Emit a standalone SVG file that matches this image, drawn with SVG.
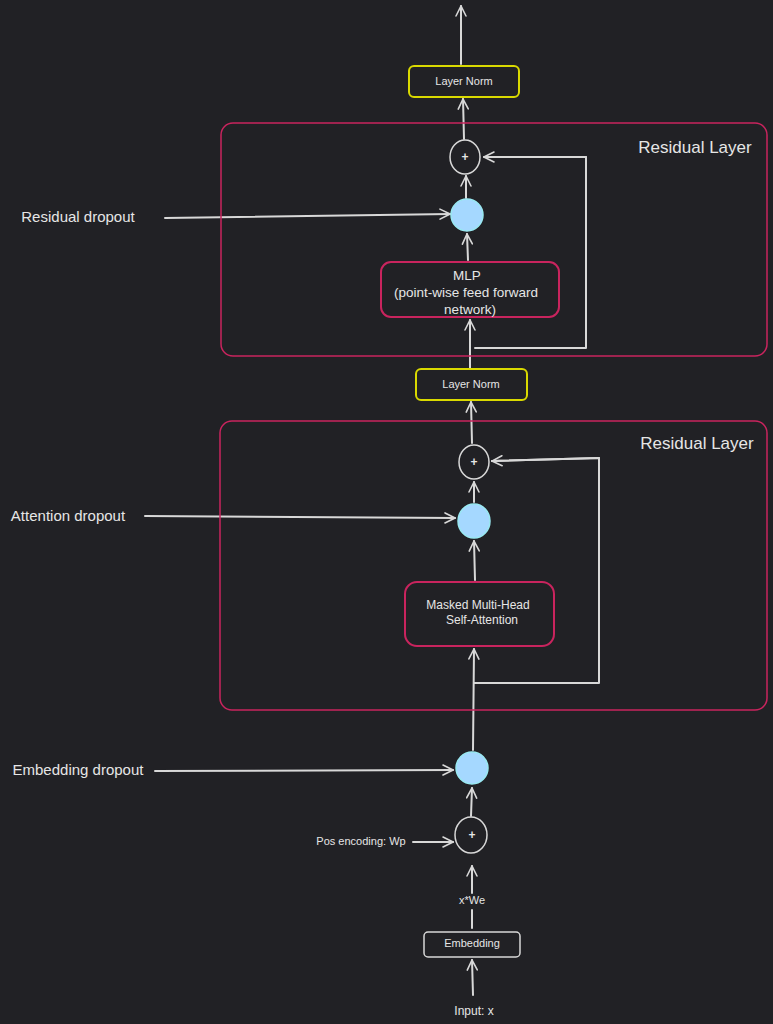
<svg xmlns="http://www.w3.org/2000/svg" width="773" height="1024" viewBox="0 0 773 1024">
<defs>
<marker id="ah" viewBox="0 0 12 12" refX="11" refY="6" markerWidth="12" markerHeight="12" markerUnits="userSpaceOnUse" orient="auto">
<path d="M1,1 L11,6 L1,11" fill="none" stroke="#d8d8d8" stroke-width="1.6" stroke-linecap="round"/>
</marker>
<style>
.bg{fill:#212125}
.ln{fill:none;stroke:#d8d8d8;stroke-width:2;stroke-linecap:round;stroke-linejoin:round}
.arr{fill:none;stroke:#d8d8d8;stroke-width:2;stroke-linecap:round;marker-end:url(#ah)}
.res{fill:none;stroke:#c9245e;stroke-width:1.5}
.yel{fill:none;stroke:#d9d900;stroke-width:2}
.pink{fill:none;stroke:#c9245e;stroke-width:2}
.wbox{fill:none;stroke:#d8d8d8;stroke-width:1.5}
.plus{fill:none;stroke:#d8d8d8;stroke-width:1.5}
.drop{fill:#a5d8ff;stroke:#99e9f2;stroke-width:1.5}
text{font-family:"Liberation Sans","DejaVu Sans",sans-serif;fill:#e6e6e6;text-anchor:middle;dominant-baseline:middle}
.s{font-size:11px}
.m{font-size:12px}
.mlp{font-size:13.5px}
.l{font-size:15px}
.big{font-size:17px}
.p{font-size:12px;font-weight:bold}
</style>
</defs>
<rect class="bg" x="0" y="0" width="773" height="1024"/>

<g id="connectors">
<line class="arr" x1="461" y1="64" x2="461" y2="6"/>
<line class="arr" x1="464" y1="139" x2="463" y2="99"/>
<line class="arr" x1="466" y1="198" x2="466" y2="176"/>
<line class="arr" x1="165" y1="218" x2="450" y2="214"/>
<line class="arr" x1="468" y1="260" x2="467" y2="234"/>
<polyline class="ln" points="475,348 586,348 586,157 487,157"/>
<line class="arr" x1="586" y1="157" x2="484" y2="157"/>
<line class="arr" x1="470" y1="368" x2="470" y2="320"/>
<line class="arr" x1="472" y1="443" x2="471" y2="402"/>
<line class="arr" x1="474" y1="502" x2="474" y2="482"/>
<line class="arr" x1="145" y1="516" x2="455" y2="518"/>
<line class="arr" x1="475" y1="580" x2="474" y2="541"/>
<polyline class="ln" points="474,683 599,683 599,458 492,461"/>
<line class="arr" x1="599" y1="458" x2="492" y2="461"/>
<line class="arr" x1="473" y1="750" x2="474" y2="649"/>
<line class="arr" x1="155" y1="771" x2="453" y2="770"/>
<line class="arr" x1="471" y1="816" x2="472" y2="788"/>
<line class="arr" x1="413" y1="842" x2="453" y2="842"/>
<line class="ln" x1="472" y1="928" x2="472" y2="910"/>
<line class="arr" x1="472" y1="893" x2="472" y2="866"/>
<line class="arr" x1="473" y1="995" x2="472" y2="960"/>
</g>

<g id="residual1">
<rect class="res" x="221" y="123" width="546" height="233" rx="12"/>
<text class="big" x="695" y="149">Residual Layer</text>
</g>
<g id="residual2">
<rect class="res" x="220" y="421" width="547" height="289" rx="12"/>
<text class="big" x="697" y="445">Residual Layer</text>
</g>

<g id="layernorm1">
<rect class="yel" x="409" y="66" width="110" height="31" rx="5"/>
<text class="s" x="464" y="82">Layer Norm</text>
</g>
<g id="plus1">
<ellipse class="plus" cx="465" cy="157" rx="15" ry="17"/>
<text class="p" x="465" y="158">+</text>
</g>
<g id="drop1">
<circle class="drop" cx="467" cy="215" r="16"/>
</g>
<g id="label-resdrop">
<text class="l" x="78" y="218">Residual dropout</text>
</g>
<g id="mlp">
<rect class="pink" x="381" y="262" width="178" height="55" rx="10"/>
<text class="mlp" x="467" y="276">MLP</text>
<text class="mlp" x="466" y="293">(point-wise feed forward</text>
<text class="mlp" x="470" y="310">network)</text>
</g>
<g id="layernorm2">
<rect class="yel" x="416" y="369" width="111" height="31" rx="5"/>
<text class="s" x="471" y="385">Layer Norm</text>
</g>
<g id="plus2">
<ellipse class="plus" cx="474" cy="462" rx="15" ry="17"/>
<text class="p" x="474" y="463">+</text>
</g>
<g id="drop2">
<ellipse class="drop" cx="474" cy="521" rx="16" ry="17"/>
</g>
<g id="label-attdrop">
<text class="l" x="68" y="517">Attention dropout</text>
</g>
<g id="attention">
<rect class="pink" x="405" y="582" width="149" height="64" rx="12"/>
<text class="m" x="478" y="606">Masked Multi-Head</text>
<text class="m" x="482" y="621">Self-Attention</text>
</g>
<g id="drop3">
<circle class="drop" cx="472" cy="768" r="16"/>
</g>
<g id="label-embdrop">
<text class="l" x="78" y="771">Embedding dropout</text>
</g>
<g id="plus3">
<ellipse class="plus" cx="471" cy="835" rx="16" ry="18"/>
<text class="p" x="472" y="836">+</text>
</g>
<g id="label-pos">
<text class="s" x="361" y="842">Pos encoding: Wp</text>
</g>
<g id="label-xwe">
<text class="s" x="472" y="901">x*We</text>
</g>
<g id="embedding">
<rect class="wbox" x="424" y="932" width="96" height="25" rx="4"/>
<text class="s" x="472" y="944">Embedding</text>
</g>
<g id="label-input">
<text class="m" x="474" y="1012">Input: x</text>
</g>
</svg>
